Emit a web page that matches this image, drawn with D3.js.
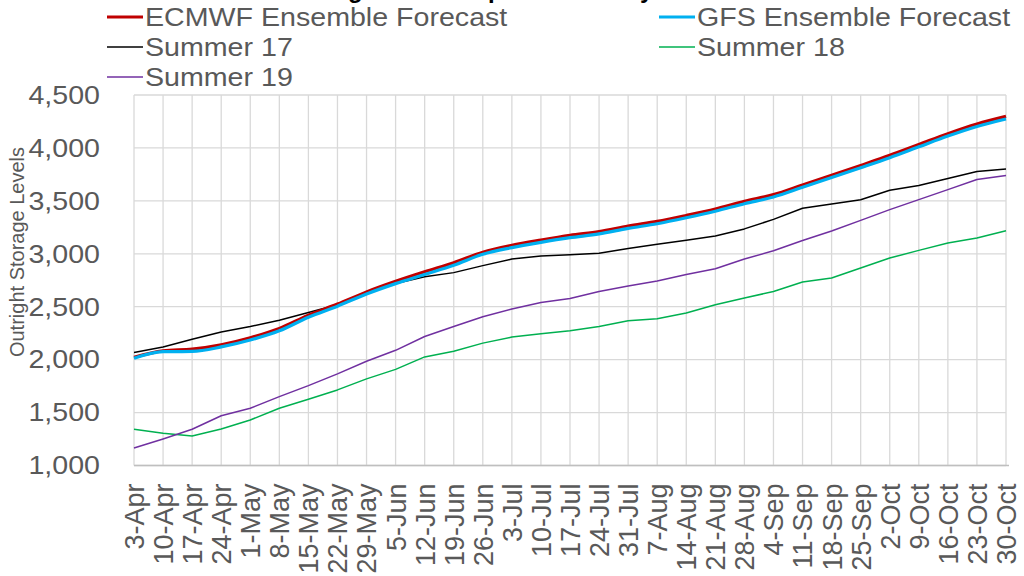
<!DOCTYPE html>
<html><head><meta charset="utf-8">
<script src="https://cdn.jsdelivr.net/npm/d3@7"></script>
<style>
html,body{margin:0;padding:0;background:#fff;overflow:hidden;}
text{font-family:"Liberation Sans",Arial,sans-serif;}
</style></head>
<body><svg id="chart" width="1024" height="576"></svg>
<script>
const categories = ["3-Apr","10-Apr","17-Apr","24-Apr","1-May","8-May","15-May","22-May","29-May","5-Jun","12-Jun","19-Jun","26-Jun","3-Jul","10-Jul","17-Jul","24-Jul","31-Jul","7-Aug","14-Aug","21-Aug","28-Aug","4-Sep","11-Sep","18-Sep","25-Sep","2-Oct","9-Oct","16-Oct","23-Oct","30-Oct"];
const ecmwf = [2023,2083,2099,2140,2206,2294,2420,2525,2640,2740,2830,2915,3015,3080,3130,3175,3210,3262,3306,3362,3423,3496,3559,3650,3742,3835,3930,4032,4135,4226,4298];
const gfs   = [2013,2075,2078,2120,2185,2272,2400,2505,2620,2718,2805,2892,2995,3058,3108,3152,3188,3240,3284,3340,3402,3473,3537,3628,3720,3813,3908,4010,4112,4203,4274];
const summer17 = [2068,2120,2192,2262,2313,2373,2445,2518,2630,2720,2783,2822,2888,2950,2978,2990,3005,3050,3090,3128,3168,3235,3325,3430,3471,3510,3600,3645,3712,3777,3802];
const summer18 = [1342,1304,1279,1345,1430,1541,1626,1714,1818,1908,2026,2080,2156,2213,2244,2272,2313,2367,2386,2440,2518,2582,2644,2733,2771,2865,2960,3032,3102,3149,3218];
const summer19 = [1165,1251,1342,1470,1541,1651,1755,1866,1985,2088,2219,2313,2405,2478,2540,2578,2644,2695,2742,2805,2858,2950,3028,3125,3215,3316,3417,3512,3606,3701,3739];
const yTicks = [1000,1500,2000,2500,3000,3500,4000,4500];
const seriesNames = ["ECMWF Ensemble Forecast","GFS Ensemble Forecast","Summer 17","Summer 18","Summer 19"];
const titleText = "Storage Outlook: past vs 15-day forecast";

const svg = d3.select("#chart");
const L = 134, R = 1006, T = 95, B = 465.5;
const x = d3.scalePoint().domain(categories).range([L, R]);
const y = d3.scaleLinear().domain([1000, 4500]).range([B, T]);

// title (mostly clipped at top, as in the reference)
svg.append("text").attr("x", 520).attr("y", -2).attr("text-anchor","middle")
  .attr("font-size", 24).attr("font-weight","bold").attr("fill","#000").text(titleText);

// gridlines
const grid = svg.append("g");
grid.selectAll(".hg").data(yTicks).enter().append("line")
  .attr("x1", L).attr("x2", R).attr("y1", d => y(d)).attr("y2", d => y(d))
  .attr("stroke", "#d9d9d9").attr("stroke-width", 1.3);
grid.selectAll(".vg").data(categories).enter().append("line")
  .attr("x1", d => x(d)).attr("x2", d => x(d)).attr("y1", T).attr("y2", B)
  .attr("stroke", "#d9d9d9").attr("stroke-width", 1.3);
svg.append("line").attr("x1", L).attr("x2", R + 3).attr("y1", B).attr("y2", B)
  .attr("stroke", "#bfbfbf").attr("stroke-width", 1.3);

// y axis
const yAxis = d3.axisLeft(y).tickValues(yTicks).tickFormat(d3.format(",")).tickSize(0).tickPadding(0);
const yg = svg.append("g").attr("transform", `translate(100,0)`).call(yAxis);
yg.select(".domain").remove();
yg.selectAll("text").attr("font-size", 26).attr("fill", "#595959")
  .attr("font-family", "Liberation Sans, Arial, sans-serif")
  .attr("transform", function(d){ return `translate(0,${y(d)}) scale(1.1,1) translate(0,${-y(d)})`; });

// x axis
const xAxis = d3.axisBottom(x).tickSize(0).tickPadding(0);
const xg = svg.append("g").attr("transform", `translate(0,${B})`).call(xAxis);
xg.select(".domain").remove();
xg.selectAll("text").attr("font-size", 27).attr("fill", "#595959")
  .attr("font-family", "Liberation Sans, Arial, sans-serif")
  .attr("text-anchor", "end").attr("dy", "0.35em").attr("y", 0)
  .attr("transform", "translate(0,18) rotate(-90)");

// y axis title
svg.append("text").attr("transform", "translate(24,252) rotate(-90)")
  .attr("text-anchor", "middle").attr("font-size", 20).attr("fill", "#595959")
  .text("Outright Storage Levels");

// lines
const lineLin = d3.line().x((d,i) => x(categories[i])).y(d => y(d));
const lineSmooth = d3.line().x((d,i) => x(categories[i])).y(d => y(d)).curve(d3.curveMonotoneX);
const series = [
  {name: seriesNames[2], data: summer17, color: "#000000", w: 1.5, smooth: false},
  {name: seriesNames[3], data: summer18, color: "#00b050", w: 1.5, smooth: false},
  {name: seriesNames[4], data: summer19, color: "#7030a0", w: 1.5, smooth: false},
  {name: seriesNames[0], data: ecmwf, color: "#c00000", w: 3.2, smooth: true},
  {name: seriesNames[1], data: gfs, color: "#00b0f0", w: 3.2, smooth: true}
];
svg.append("g").selectAll("path").data(series).enter().append("path")
  .attr("d", d => (d.smooth ? lineSmooth : lineLin)(d.data))
  .attr("fill", "none").attr("stroke", d => d.color).attr("stroke-width", d => d.w)
  .attr("stroke-linejoin", "round");

// legend
const legendItems = [
  {name: seriesNames[0], color: "#c00000", w: 3.2, lx: 107, ly: 17},
  {name: seriesNames[1], color: "#00b0f0", w: 3.2, lx: 659, ly: 17},
  {name: seriesNames[2], color: "#000000", w: 1.5, lx: 107, ly: 47},
  {name: seriesNames[3], color: "#00b050", w: 1.5, lx: 659, ly: 47},
  {name: seriesNames[4], color: "#7030a0", w: 1.5, lx: 107, ly: 77}
];
const lg = svg.append("g").selectAll("g").data(legendItems).enter().append("g")
  .attr("transform", d => `translate(${d.lx},${d.ly})`);
lg.append("line").attr("x1", 0).attr("x2", 36).attr("y1", 0).attr("y2", 0)
  .attr("stroke", d => d.color).attr("stroke-width", d => d.w);
lg.append("text").attr("transform", "translate(38,0) scale(1.1,1)").attr("dy", "0.35em")
  .attr("font-size", 26).attr("fill", "#595959").text(d => d.name);
</script></body></html>
